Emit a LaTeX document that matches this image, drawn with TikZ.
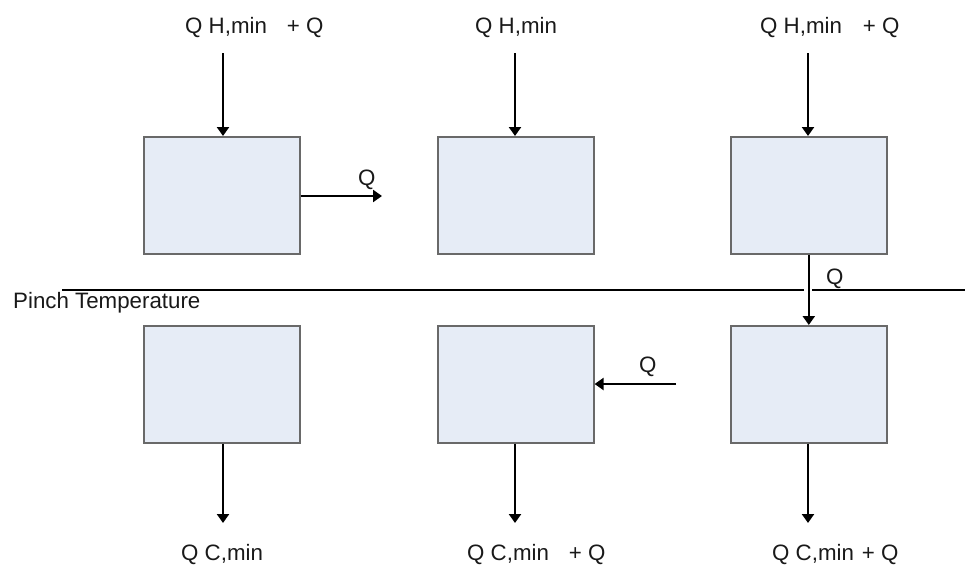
\documentclass[tikz,border=0pt]{standalone}
\usepackage{fontspec}
\setmainfont{Liberation Sans}
\usetikzlibrary{arrows.meta}
\definecolor{boxfill}{RGB}{230,236,246}
\definecolor{boxline}{RGB}{105,105,105}
\definecolor{txt}{RGB}{25,25,25}
\begin{document}
\begin{tikzpicture}[x=1pt,y=-1pt,
  blk/.style={draw=boxline, fill=boxfill, line width=1.6pt, minimum width=156pt, minimum height=117pt, inner sep=0pt, anchor=north west},
  arr/.style={line width=2.4pt, -{Triangle[width=12pt,length=9pt]}},
  lbl/.style={text=txt, font=\fontsize{22.3}{25}\selectfont, inner sep=0pt, anchor=west}]
\useasboundingbox (0,0) rectangle (965,565);
% boxes
\node[blk] (b1) at (143,136) {};
\node[blk] (b2) at (437,136) {};
\node[blk] (b3) at (730,136) {};
\node[blk] (b4) at (143,325) {};
\node[blk] (b5) at (437,325) {};
\node[blk] (b6) at (730,325) {};
% pinch line
\coordinate (p1) at (62,290);
\coordinate (p2) at (965,290);
\draw[line width=1.5pt] (p1) -- (p2);
\node[lbl] (pt) at (13,303) {Pinch Temperature};
% top labels and arrows
\node[lbl] (l1) at (185,28) {Q H,min\hspace{20pt}+ Q};
\node[lbl] (l2) at (475,28) {Q H,min};
\node[lbl] (l3) at (760,28) {Q H,min\hspace{21pt}+ Q};
\coordinate (t1) at (223,53);
\coordinate (t2) at (515,53);
\coordinate (t3) at (808,53);
\draw[arr] (t1) -- (t1 |- b1.north);
\draw[arr] (t2) -- (t2 |- b2.north);
\draw[arr] (t3) -- (t3 |- b3.north);
% Q from box1 to the right
\coordinate (q1) at (382,196);
\draw[arr] (b1.east |- q1) -- (q1);
\node[lbl] (ql1) at (358,180) {Q};
% Q from box3 down to box6, crossing the pinch line
\coordinate (gx) at (808,290);
\fill[white] ([xshift=-4pt,yshift=-2pt]gx) rectangle ([xshift=4pt,yshift=2pt]gx);
\draw[arr] (b3) -- (b6);
\node[lbl] (ql3) at (826,279) {Q};
% Q into box5
\coordinate (q5) at (676,384);
\draw[arr] (q5) -- (q5 -| b5.east);
\node[lbl] (ql5) at (639,367) {Q};
% bottom arrows and labels
\coordinate (d1) at (223,523);
\coordinate (d2) at (515,523);
\coordinate (d3) at (808,523);
\draw[arr] (d1 |- b4.south) -- (d1);
\draw[arr] (d2 |- b5.south) -- (d2);
\draw[arr] (d3 |- b6.south) -- (d3);
\node[lbl] (c1) at (181,555) {Q C,min};
\node[lbl] (c2) at (467,555) {Q C,min\hspace{20pt}+ Q};
\node[lbl] (c3) at (772,555) {Q C,min\hspace{8pt}+ Q};
\end{tikzpicture}
\end{document}
